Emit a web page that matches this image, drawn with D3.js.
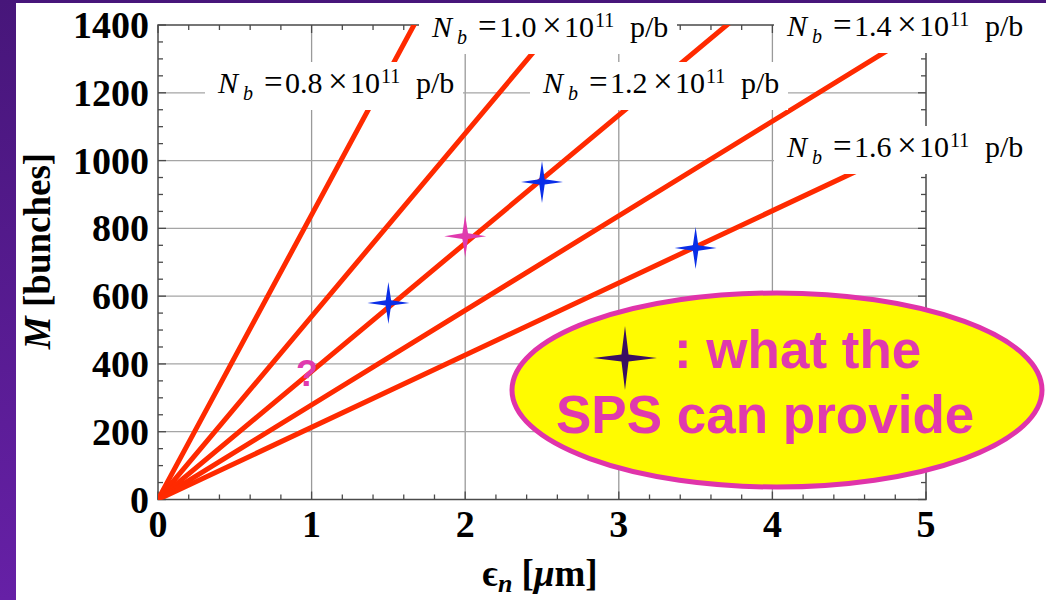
<!DOCTYPE html>
<html>
<head>
<meta charset="utf-8">
<script src="https://cdn.jsdelivr.net/npm/d3@7"></script>
<style>
  html, body { margin: 0; padding: 0; background: #ffffff; }
  svg { display: block; }
</style>
</head>
<body>
<svg id="chart" width="1046" height="600"></svg>
<script>
// ---------------- data ----------------
const bunchIntensities = ["0.8", "1.0", "1.2", "1.4", "1.6"];      // N_b in 10^11 p/b
const slopes = [840, 540, 378, 279, 213];                            // M per μm of ε_n for each N_b line
const xTicks = [0, 1, 2, 3, 4, 5];
const yTicks = [0, 200, 400, 600, 800, 1000, 1200, 1400];
const spsPointsEps = [1.5, 2.5, 3.5];
const spsPointsM = [580, 937, 742];
const targetPointsEps = [2.0];
const targetPointsM = [777];
const questionEps = [0.97];
const questionM = [370];

// ---------------- layout ----------------
const W = 1046, H = 600;
const svg = d3.select("#chart");
const defs = svg.append("defs");

const x = d3.scaleLinear().domain([0, 5]).range([158, 926]);
const y = d3.scaleLinear().domain([0, 1400]).range([499.5, 25]);

// slide background
const grad = defs.append("linearGradient").attr("id", "purp").attr("x1", 0).attr("y1", 0).attr("x2", 0).attr("y2", 1);
grad.append("stop").attr("offset", "0%").attr("stop-color", "#47167a");
grad.append("stop").attr("offset", "100%").attr("stop-color", "#6620a6");
svg.append("rect").attr("x", 0).attr("y", 0).attr("width", W).attr("height", H).attr("fill", "url(#purp)");
svg.append("rect").attr("x", 16).attr("y", 3).attr("width", W - 16).attr("height", H - 3).attr("fill", "#ffffff");

defs.append("clipPath").attr("id", "plotclip").append("rect")
  .attr("x", x(0)).attr("y", y(1400)).attr("width", x(5) - x(0)).attr("height", y(0) - y(1400));

// grid
const grid = svg.append("g");
grid.selectAll("line.v").data(xTicks.filter(d => d > 0 && d < 5)).join("line")
  .attr("x1", d => x(d)).attr("x2", d => x(d)).attr("y1", y(0)).attr("y2", y(1400))
  .attr("stroke", "#9a9a9a").attr("stroke-width", 1.3);
grid.selectAll("line.h").data(yTicks.filter(d => d > 0 && d < 1400)).join("line")
  .attr("x1", x(0)).attr("x2", x(5)).attr("y1", d => y(d)).attr("y2", d => y(d))
  .attr("stroke", "#a5a5a5").attr("stroke-width", 1.3);

// frame with inward ticks on all four sides
const frameColor = "#4a4a4a";
const fr = svg.append("g");
fr.append("rect").attr("x", x(0)).attr("y", y(1400)).attr("width", x(5) - x(0)).attr("height", y(0) - y(1400))
  .attr("fill", "none").attr("stroke", frameColor).attr("stroke-width", 1.5);
const xMinor = d3.range(0, 5.0001, 0.2);
const yMinor = d3.range(0, 1400.001, 50);
const isMajX = v => Math.abs(v - Math.round(v)) < 1e-6;
const isMajY = v => Math.abs(v / 200 - Math.round(v / 200)) < 1e-6;
xMinor.forEach(v => {
  const L = isMajX(v) ? 8 : 5;
  fr.append("line").attr("x1", x(v)).attr("x2", x(v)).attr("y1", y(0)).attr("y2", y(0) - L).attr("stroke", frameColor).attr("stroke-width", 1.3);
  fr.append("line").attr("x1", x(v)).attr("x2", x(v)).attr("y1", y(1400)).attr("y2", y(1400) + L).attr("stroke", frameColor).attr("stroke-width", 1.3);
});
yMinor.forEach(v => {
  const L = isMajY(v) ? 8 : 5;
  fr.append("line").attr("x1", x(0)).attr("x2", x(0) + L).attr("y1", y(v)).attr("y2", y(v)).attr("stroke", frameColor).attr("stroke-width", 1.3);
  fr.append("line").attr("x1", x(5)).attr("x2", x(5) - L).attr("y1", y(v)).attr("y2", y(v)).attr("stroke", frameColor).attr("stroke-width", 1.3);
});

// tick labels
const tickFont = "'Liberation Serif', 'Times New Roman', serif";
svg.append("g").selectAll("text").data(yTicks).join("text")
  .attr("x", 149).attr("y", d => y(d) + 13)
  .attr("text-anchor", "end").attr("font-family", tickFont).attr("font-weight", "bold")
  .attr("font-size", 38).attr("fill", "#000").text(d => d);
svg.append("g").selectAll("text").data(xTicks).join("text")
  .attr("x", d => x(d)).attr("y", 537)
  .attr("text-anchor", "middle").attr("font-family", tickFont).attr("font-weight", "bold")
  .attr("font-size", 38).attr("fill", "#000").text(d => d);

// axis titles
const yt = svg.append("text").attr("transform", "translate(50,251) rotate(-90)")
  .attr("text-anchor", "middle").attr("font-family", tickFont).attr("font-weight", "bold")
  .attr("font-size", 37).attr("fill", "#000");
yt.append("tspan").attr("font-style", "italic").text("M");
yt.append("tspan").text(" [bunches]");

const xt = svg.append("text").attr("x", 540).attr("y", 586)
  .attr("text-anchor", "middle").attr("font-family", tickFont).attr("font-weight", "bold")
  .attr("font-size", 37).attr("fill", "#000");
xt.append("tspan").text("\u03F5");
xt.append("tspan").attr("font-style", "italic").attr("font-size", 26).attr("dy", 6).text("n");
xt.append("tspan").attr("dy", -6).text(" [");
xt.append("tspan").attr("font-style", "italic").text("\u03BC");
xt.append("tspan").text("m]");

// N_b lines
const lineGen = d3.line().x(d => x(d[0])).y(d => y(d[1]));
svg.append("g").attr("clip-path", "url(#plotclip)")
  .selectAll("path").data(slopes).join("path")
  .attr("d", s => lineGen([[0, 0], [5, 5 * s]]))
  .attr("fill", "none").attr("stroke", "#ff2a00").attr("stroke-width", 5).attr("stroke-linecap", "round");

// stars
function starPath(R, r) {
  const pts = [];
  for (let i = 0; i < 8; i++) {
    const a = -Math.PI / 2 + i * Math.PI / 4;
    const rad = i % 2 === 0 ? R : r;
    pts.push([rad * Math.cos(a), rad * Math.sin(a)]);
  }
  return "M" + pts.map(p => p[0].toFixed(2) + "," + p[1].toFixed(2)).join("L") + "Z";
}
svg.append("g").selectAll("path").data(spsPointsEps).join("path")
  .attr("d", starPath(21, 3.8))
  .attr("transform", (d, i) => `translate(${x(d)},${y(spsPointsM[i])})`)
  .attr("fill", "#0a2ee8");
svg.append("g").selectAll("path").data(targetPointsEps).join("path")
  .attr("d", starPath(21, 4))
  .attr("transform", (d, i) => `translate(${x(d)},${y(targetPointsM[i])})`)
  .attr("fill", "#e03aae");

// question mark
svg.append("g").selectAll("text").data(questionEps).join("text")
  .attr("x", d => x(d)).attr("y", (d, i) => y(questionM[i]) + 12)
  .attr("text-anchor", "middle").attr("font-family", "'Liberation Sans', Arial, sans-serif")
  .attr("font-weight", "bold").attr("font-size", 36).attr("fill", "#e03aae").text("?");

// line labels (white boxes)
const labelPos = [
  { x: 218, y: 93 },   // 0.8
  { x: 432, y: 37 },   // 1.0
  { x: 543, y: 93 },   // 1.2
  { x: 787, y: 36 },   // 1.4
  { x: 787, y: 157 }   // 1.6
];
const labG = svg.append("g");
bunchIntensities.forEach((nb, i) => {
  const p = labelPos[i];
  labG.append("rect").attr("x", p.x - 13).attr("y", p.y - 31).attr("width", 258).attr("height", 48).attr("fill", "#ffffff");
  const t = labG.append("text").attr("y", p.y).attr("font-family", tickFont).attr("font-size", 30).attr("fill", "#000");
  t.append("tspan").attr("x", p.x).attr("font-style", "italic").text("N");
  t.append("tspan").attr("x", p.x + 25).attr("dy", 7).attr("font-style", "italic").attr("font-size", 20).text("b");
  t.append("tspan").attr("x", p.x + 46).attr("dy", -7).attr("font-size", 33).text("=");
  t.append("tspan").attr("x", p.x + 67).text(nb);
  t.append("tspan").attr("x", p.x + 110).attr("font-size", 35).text("\u00D7");
  t.append("tspan").attr("x", p.x + 132).text("10");
  t.append("tspan").attr("x", p.x + 163).attr("dy", -10).attr("font-size", 20).text("11");
  t.append("tspan").attr("x", p.x + 198).attr("dy", 10).text("p/b");
});

// callout ellipse
const call = svg.append("g");
call.append("ellipse").attr("cx", 777).attr("cy", 390).attr("rx", 265).attr("ry", 97)
  .attr("fill", "#fffb00").attr("stroke", "#e034aa").attr("stroke-width", 5);
call.append("path").attr("d", starPath(32, 5)).attr("transform", "translate(625,358)").attr("fill", "#3a0e62");
call.append("text").attr("x", 674).attr("y", 368)
  .attr("font-family", "'Liberation Sans', Arial, sans-serif").attr("font-weight", "bold")
  .attr("font-size", 53).attr("fill", "#e03aae").text(": what the");
call.append("text").attr("x", 556).attr("y", 433)
  .attr("font-family", "'Liberation Sans', Arial, sans-serif").attr("font-weight", "bold")
  .attr("font-size", 53).attr("fill", "#e03aae").text("SPS can provide");
</script>
</body>
</html>
